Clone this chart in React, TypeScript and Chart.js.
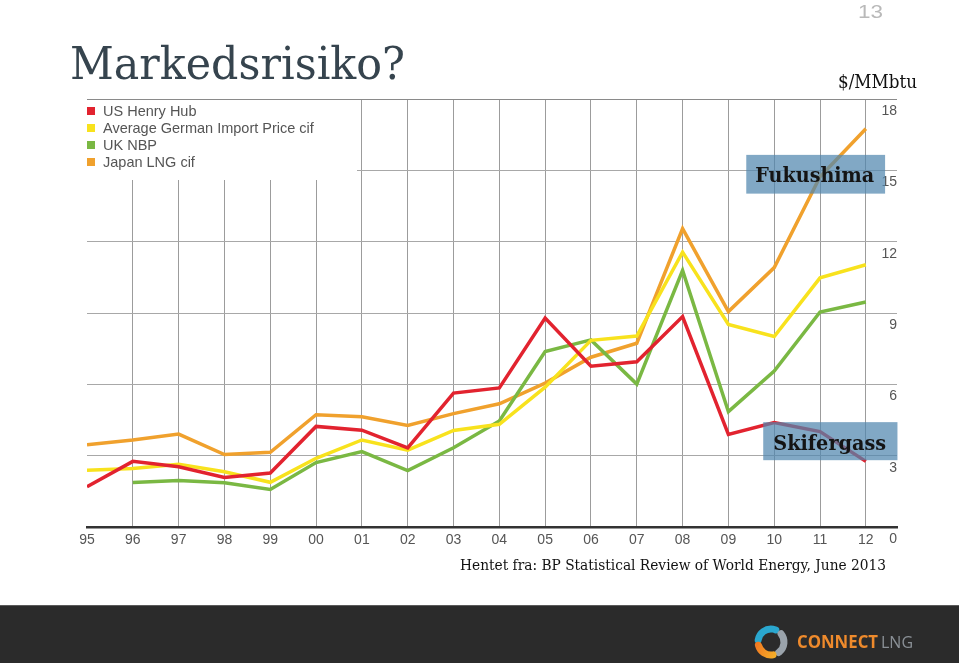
import React, { useEffect, useRef } from "react";
import { Chart, registerables } from "chart.js";

Chart.register(...registerables);

// ---- data ----
const yearLabels = ["95", "96", "97", "98", "99", "00", "01", "02", "03", "04", "05", "06", "07", "08", "09", "10", "11", "12"];
const henryHub = [1.69, 2.76, 2.53, 2.08, 2.27, 4.23, 4.07, 3.33, 5.63, 5.85, 8.79, 6.76, 6.95, 8.85, 3.89, 4.39, 4.01, 2.76];
const germanImport = [2.39, 2.46, 2.64, 2.32, 1.88, 2.89, 3.66, 3.23, 4.06, 4.32, 5.88, 7.85, 8.03, 11.56, 8.52, 8.01, 10.48, 11.03];
const ukNbp = [null, 1.87, 1.96, 1.86, 1.58, 2.71, 3.17, 2.37, 3.33, 4.46, 7.38, 7.87, 6.01, 10.79, 4.85, 6.56, 9.04, 9.46];
const japanLng = [3.46, 3.66, 3.91, 3.05, 3.14, 4.72, 4.64, 4.27, 4.77, 5.18, 6.05, 7.14, 7.73, 12.55, 9.06, 10.91, 14.73, 16.75];
const seriesNames = ["US Henry Hub", "Average German Import Price cif", "UK NBP", "Japan LNG cif"];
const seriesColors = ["#e2232f", "#f8e21d", "#7ab843", "#f0a12d"];
const yMax = 18;
const yStep = 3;
const xMaxPad = 17.68;

const toPoints = (arr: (number | null)[]) => arr.map((v, i) => ({ x: i, y: v }));

function fitText(ctx: CanvasRenderingContext2D, text: string, x: number, y: number, width: number, font: string, color: string) {
  ctx.save();
  ctx.font = font;
  ctx.fillStyle = color;
  ctx.textBaseline = "alphabetic";
  ctx.textAlign = "left";
  const w = ctx.measureText(text).width;
  ctx.translate(x, y);
  ctx.scale(width / w, 1);
  ctx.fillText(text, 0, 0);
  ctx.restore();
}

const decorPlugin = {
  id: "decor",
  beforeDraw(chart: any) {
    const ctx = chart.ctx;
    ctx.save();
    ctx.fillStyle = "#ffffff";
    ctx.fillRect(0, 0, chart.width, chart.height);
    ctx.restore();
  },
  beforeDatasetsDraw(chart: any) {
    const ctx = chart.ctx;
    const x = chart.scales.x;
    const y = chart.scales.y;
    // white legend panel
    ctx.save();
    ctx.fillStyle = "#ffffff";
    ctx.fillRect(x.left, y.top + 1, 270, 80);
    chart.data.datasets.forEach((ds: any, i: number) => {
      const cy = y.top + 12 + i * 17;
      ctx.fillStyle = ds.borderColor;
      ctx.fillRect(x.left, cy - 4, 8, 8);
      ctx.fillStyle = "#555555";
      ctx.font = "14.5px 'Liberation Sans', Arial, sans-serif";
      ctx.textBaseline = "middle";
      ctx.textAlign = "left";
      ctx.fillText(ds.label, x.left + 16, cy + 0.5);
    });
    ctx.restore();
  },
  afterDatasetsDraw(chart: any) {
    const ctx = chart.ctx;
    const xs = chart.scales.x;
    const ys = chart.scales.y;
    const box = (x0: number, x1: number, y0: number, y1: number) => {
      const px0 = xs.getPixelForValue(x0);
      const px1 = xs.getPixelForValue(x1);
      const py0 = ys.getPixelForValue(y0);
      const py1 = ys.getPixelForValue(y1);
      ctx.save();
      ctx.fillStyle = "rgba(80,135,175,0.72)";
      ctx.fillRect(px0, py0, px1 - px0, py1 - py0);
      ctx.restore();
      return { px0, px1, py0, py1 };
    };
    const f = box(14.39, 17.42, 15.65, 14.02);
    fitText(ctx, "Fukushima", f.px0 + 9, f.py0 + 27, 119, "bold 20px 'DejaVu Serif', serif", "#141414");
    const s = box(14.76, 17.69, 4.41, 2.81);
    fitText(ctx, "Skifergass", s.px0 + 10, s.py0 + 28, 113, "bold 21px 'DejaVu Serif', serif", "#141414");
  },
  afterDraw(chart: any) {
    const ctx = chart.ctx;
    // title
    fitText(ctx, "Markedsrisiko?", 70, 79, 335, "44px 'DejaVu Serif', serif", "#36444e");
    // page number
    fitText(ctx, "13", 858, 18, 25, "19px 'Liberation Sans', Arial, sans-serif", "#b9b9b9");
    // unit
    fitText(ctx, "$/MMbtu", 838, 88, 79, "18px 'DejaVu Serif', serif", "#111111");
    // source
    fitText(ctx, "Hentet fra: BP Statistical Review of World Energy, June 2013", 460, 570, 426, "15px 'DejaVu Serif', serif", "#111111");
    // bottom band
    ctx.save();
    ctx.fillStyle = "#2b2b2b";
    ctx.fillRect(0, 605, chart.width, chart.height - 605);
    ctx.fillStyle = "#5a5a5a";
    ctx.fillRect(0, 605, chart.width, 1);
    // logo icon
    const cx = 771, cy = 642, r = 13;
    ctx.lineCap = "round";
    ctx.lineWidth = 7;
    ctx.strokeStyle = "#2aa7cf";
    ctx.beginPath();
    ctx.arc(cx, cy, r, Math.PI * 1.05, Math.PI * 1.62);
    ctx.stroke();
    ctx.strokeStyle = "#9aa3ab";
    ctx.beginPath();
    ctx.arc(cx, cy, r, Math.PI * 1.78, Math.PI * 2.3);
    ctx.stroke();
    const g = ctx.createLinearGradient(cx - r, cy, cx + r, cy + r);
    g.addColorStop(0, "#f07a22");
    g.addColorStop(1, "#f7c02a");
    ctx.strokeStyle = g;
    ctx.beginPath();
    ctx.arc(cx, cy, r, Math.PI * 0.45, Math.PI * 0.92);
    ctx.stroke();
    ctx.restore();
    fitText(ctx, "CONNECT", 797, 648, 81, "bold 17px 'Open Sans', Arial, sans-serif", "#ee8a2c");
    fitText(ctx, "LNG", 881, 648, 32, "17px 'Open Sans', Arial, sans-serif", "#8a9096");
  },
};

export default function App() {
  const canvasRef = useRef<HTMLCanvasElement | null>(null);

  useEffect(() => {
    const canvas = canvasRef.current;
    if (!canvas) return;
    const datasets = [henryHub, germanImport, ukNbp, japanLng].map((arr, i) => ({
      label: seriesNames[i],
      data: toPoints(arr),
      borderColor: seriesColors[i],
      backgroundColor: seriesColors[i],
      borderWidth: 3.5,
      pointRadius: 0,
      tension: 0,
      fill: false,
    }));
    const chart = new Chart(canvas, {
      type: "line",
      data: { datasets },
      plugins: [decorPlugin],
      options: {
        animation: false,
        responsive: false,
        devicePixelRatio: 1,
        layout: { autoPadding: false, padding: { left: 87, right: 62, top: 99, bottom: 106 } },
        plugins: { legend: { display: false }, tooltip: { enabled: false }, title: { display: false } },
        scales: {
          x: {
            type: "linear",
            min: 0,
            max: xMaxPad,
            afterBuildTicks: (scale: any) => {
              scale.ticks = yearLabels.map((_, i) => ({ value: i }));
            },
            afterFit: (scale: any) => {
              scale.height = 30;
            },
            grid: {
              drawTicks: false,
              color: (c: any) => (c.index === 0 ? "rgba(0,0,0,0)" : "#9c9c9c"),
              lineWidth: 1,
            },
            border: { display: true, color: "#333333", width: 2.5 },
            ticks: {
              autoSkip: false,
              maxRotation: 0,
              padding: 5,
              color: "#555555",
              font: { family: "'Liberation Sans', Arial, sans-serif", size: 14 },
              callback: (v: any) => yearLabels[v] ?? "",
            },
          },
          y: {
            position: "right",
            min: 0,
            max: yMax,
            afterFit: (scale: any) => {
              scale.width = 0;
            },
            grid: {
              drawTicks: false,
              color: (c: any) => (c.tick && c.tick.value === yMax ? "#8a8a8a" : "#a8a8a8"),
              lineWidth: 1,
            },
            border: { display: false },
            ticks: {
              stepSize: yStep,
              mirror: true,
              padding: 0,
              labelOffset: 12,
              color: "#555555",
              font: { family: "'Liberation Sans', Arial, sans-serif", size: 14 },
            },
          },
        },
      } as any,
    });
    return () => chart.destroy();
  }, []);

  return (
    <div style={{ position: "absolute", left: 0, top: 0, width: 959, height: 663 }}>
      <canvas ref={canvasRef} width={959} height={663} style={{ width: 959, height: 663, display: "block" }} />
    </div>
  );
}
